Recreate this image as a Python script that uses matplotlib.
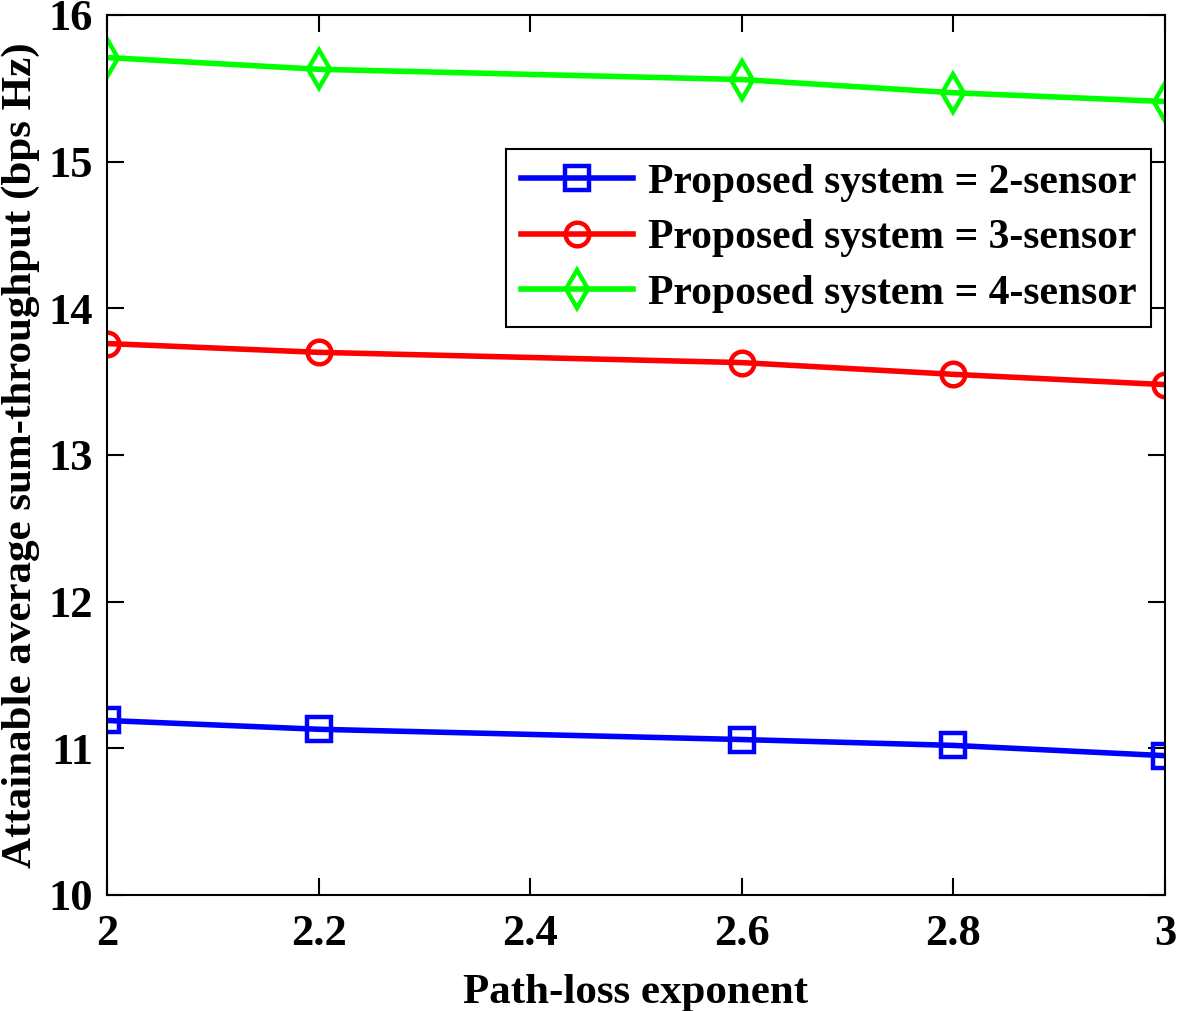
import matplotlib
matplotlib.use("Agg")
import matplotlib.pyplot as plt

x = [2.0, 2.2, 2.6, 2.8, 3.0]
s2 = [11.19, 11.13, 11.06, 11.02, 10.95]
s3 = [13.76, 13.70, 13.63, 13.55, 13.48]
s4 = [15.71, 15.63, 15.56, 15.47, 15.41]
labels = ["Proposed system = 2-sensor", "Proposed system = 3-sensor", "Proposed system = 4-sensor"]
xticks = [2, 2.2, 2.4, 2.6, 2.8, 3]
xticklabels = ["2", "2.2", "2.4", "2.6", "2.8", "3"]
yticks = [10, 11, 12, 13, 14, 15, 16]

plt.rcParams['font.family'] = ['Liberation Serif', 'DejaVu Serif']
plt.rcParams['font.weight'] = 'bold'

fig = plt.figure(figsize=(11.78, 10.11), dpi=100)
ax = fig.add_axes([107/1178, 1 - 895/1011, (1165-107)/1178, (895-15)/1011])

ax.plot(x, s2, color='#0000ff', lw=4, marker='s', ms=17, mfc='none', mew=3.2, label=labels[0])
ax.plot(x, s3, color='#ff0000', lw=4, marker='o', ms=17, mfc='none', mew=3.2, label=labels[1])
ax.plot(x, s4, color='#00ff00', lw=4, marker='d', ms=19, mfc='none', mew=3.2, label=labels[2])

ax.set_xlim(2, 3)
ax.set_ylim(10, 16)
ax.set_xticks(xticks)
ax.set_xticklabels(xticklabels)
ax.set_yticks(yticks)
ax.tick_params(direction='in', length=12, width=1.5, top=True, right=True, labelsize=32)
ax.tick_params(axis='x', pad=14)
ax.tick_params(axis='y', pad=10)
for lab in ax.get_xticklabels() + ax.get_yticklabels():
    lab.set_fontweight('bold')
for sp in ax.spines.values():
    sp.set_linewidth(1.5)

ax.set_xlabel("Path-loss exponent", fontsize=31, fontweight='bold', labelpad=14)
ax.set_ylabel("Attainable average sum-throughput (bps Hz)", fontsize=31, fontweight='bold', labelpad=6)

leg = ax.legend(loc='upper right', bbox_to_anchor=(0.987, 0.848), prop={'size': 30, 'weight': 'bold'},
                frameon=True, fancybox=False, edgecolor='black', framealpha=1,
                handlelength=2.7, handletextpad=0.35, borderpad=0.35, labelspacing=0.42, borderaxespad=0)
leg.get_frame().set_linewidth(1.5)

fig.savefig("out.png", dpi=100, facecolor='white')
